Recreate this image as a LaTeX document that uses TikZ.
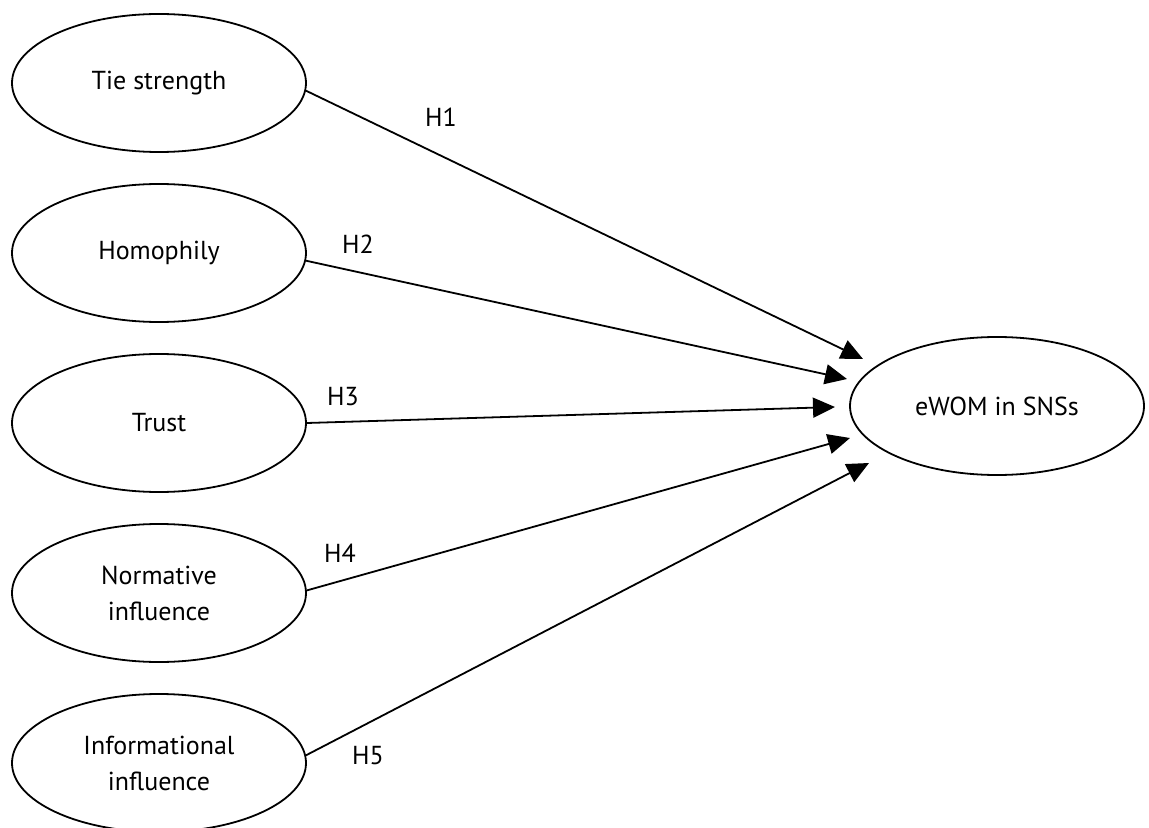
\documentclass[tikz,border=0pt]{standalone}
\usepackage{fontspec}
\setmainfont{PT Sans}
\usepackage{tikz}
\usetikzlibrary{arrows.meta,shapes,positioning}

\tikzset{
  construct/.style = {draw, ellipse, line width = .9pt, minimum width = 147pt,
    minimum height = 69pt, inner sep = 0pt, align = center,
    font = \fontsize{13}{18}\selectfont},
  hyp/.style = {font = \fontsize{13}{16}\selectfont},
  path/.style = {-{Triangle[length = 11pt, width = 10pt]}, line width = .9pt}
}

\begin{document}
\begin{tikzpicture}[x = .5pt, y = -.5pt]
\useasboundingbox (0,0) rectangle (1149,828);
\node[construct] (tie) at (159,83) {Tie strength};
\node[construct] (homo) at (159,253) {Homophily};
\node[construct] (trust) at (159,423) {Trust};
\node[construct] (norm) at (159,593) {Normative\\influence};
\node[construct] (info) at (159,763) {Informational\\influence};
\node[construct] (ewom) at (997,406) {eWOM in SNSs};
% arrow tips stop short of the outcome
\coordinate (t1) at (863,359);
\coordinate (t2) at (847,379);
\coordinate (t3) at (835,407);
\coordinate (t4) at (850,438);
\coordinate (t5) at (869,463);
\draw[path] (tie.-3) -- (t1);
\draw[path] (homo.-3) -- (t2);
\draw[path] (trust.east) -- (t3);
\draw[path] (norm.1) -- (t4);
\draw[path] (info.3) -- (t5);
\node[hyp] (h1) at (441,117) {H1};
\node[hyp] (h2) at (358,244) {H2};
\node[hyp] (h3) at (343,397) {H3};
\node[hyp] (h4) at (340,553) {H4};
\node[hyp] (h5) at (368,756) {H5};
\end{tikzpicture}
\end{document}
